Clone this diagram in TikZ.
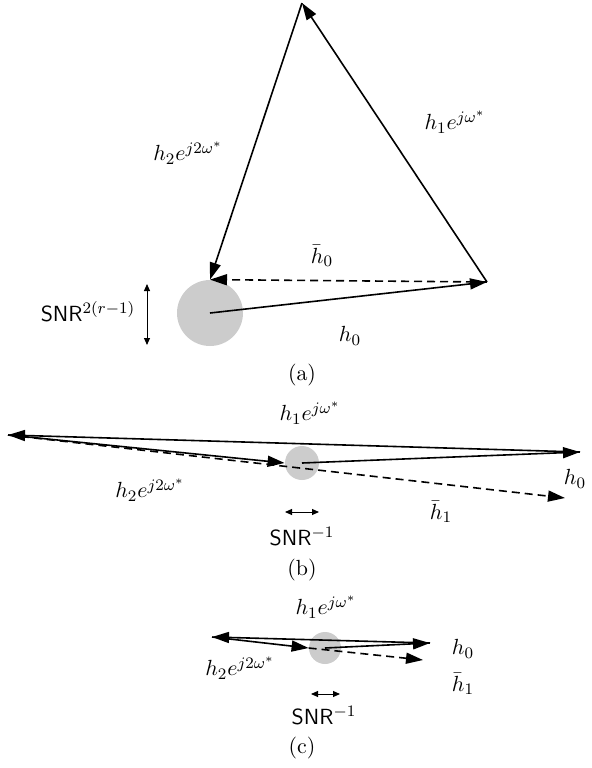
\documentclass[tikz,border=0pt,11pt]{standalone}
\usepackage{tikz}
\definecolor{discgray}{HTML}{CCCCCC}
\usetikzlibrary{arrows.meta, positioning}
\tikzset{
	disc/.style={circle, fill=discgray, inner sep=0pt},
	varr/.style={-{Triangle[length=8.5pt, width=5.5pt]}, line width=0.8pt},
	darr/.style={varr, dashed, dash pattern=on 4pt off 2.5pt},
	sarr/.style={{Triangle[length=3.5pt, width=3pt]}-{Triangle[length=3.5pt, width=3pt]}, line width=0.5pt},
	lbl/.style={inner sep=0pt}
}

\begin{document}
\begin{tikzpicture}[x=0.5pt, y=-0.5pt]
	\useasboundingbox (0,0) rectangle (591,768);
	% (a)
	\node[disc, minimum size=33pt] (discA) at (210,313) {};
	\coordinate (ra) at (487,282);
	\coordinate (ta) at (302,3);
	\draw[varr] (discA.center) -- (ra);
	\draw[darr] (ra) -- (discA.north);
	\draw[varr] (ra) -- (ta);
	\draw[varr] (ta) -- (discA.north);
	\node[lbl] (h1a) at (455,122) {$h_1e^{j\omega^*}$};
	\node[lbl] (h2a) at (188,153) {$h_2e^{j2\omega^*}$};
	\node[lbl] (hb0a) at (322,256) {$\bar{h}_0$};
	\node[lbl] (h0a) at (350,336) {$h_0$};
	\coordinate (sa1) at (147,284);
	\coordinate (sa2) at (147,345);
	\draw[sarr] (sa1) -- (sa2);
	\node[lbl] (snra) at (88,312) {\textsf{SNR}$^{2(r-1)}$};
	\node[lbl] (capa) at (302,375) {(a)};
	% (b)
	\node[disc, minimum size=17pt] (discB) at (302,463) {};
	\coordinate (lb) at (8,435);
	\coordinate (rb) at (580,452);
	\coordinate (eb) at (565,498);
	\draw[darr] (lb) -- (eb);
	\draw[varr] (discB.center) -- (rb);
	\draw[varr] (rb) -- (lb);
	\draw[varr] (lb) -- (discB.west);
	\node[lbl] (h1b) at (310,413) {$h_1e^{j\omega^*}$};
	\node[lbl] (h2b) at (150,490) {$h_2e^{j2\omega^*}$};
	\node[lbl] (h0b) at (575,479) {$h_0$};
	\node[lbl] (hb1b) at (441,512) {$\bar{h}_1$};
	\coordinate (sb1) at (285,512);
	\coordinate (sb2) at (319,512);
	\draw[sarr] (sb1) -- (sb2);
	\node[lbl] (snrb) at (302,537) {\textsf{SNR}$^{-1}$};
	\node[lbl] (capb) at (302,570) {(b)};
	% (c)
	\node[disc, minimum size=16pt] (discC) at (325,648) {};
	\coordinate (lc) at (212,637);
	\coordinate (rc) at (430,643);
	\coordinate (ec) at (423,660);
	\draw[darr] (discC.west) -- (ec);
	\draw[varr] (discC.center) -- (rc);
	\draw[varr] (rc) -- (lc);
	\draw[varr] (lc) -- (discC.west);
	\node[lbl] (h1c) at (326,607) {$h_1e^{j\omega^*}$};
	\node[lbl] (h2c) at (240,668) {$h_2e^{j2\omega^*}$};
	\node[lbl] (h0c) at (463,649) {$h_0$};
	\node[lbl] (hb1c) at (463,684) {$\bar{h}_1$};
	\coordinate (sc1) at (311,694);
	\coordinate (sc2) at (340,694);
	\draw[sarr] (sc1) -- (sc2);
	\node[lbl] (snrc) at (324,716) {\textsf{SNR}$^{-1}$};
	\node[lbl] (capc) at (302,748) {(c)};
\end{tikzpicture}
\end{document}
